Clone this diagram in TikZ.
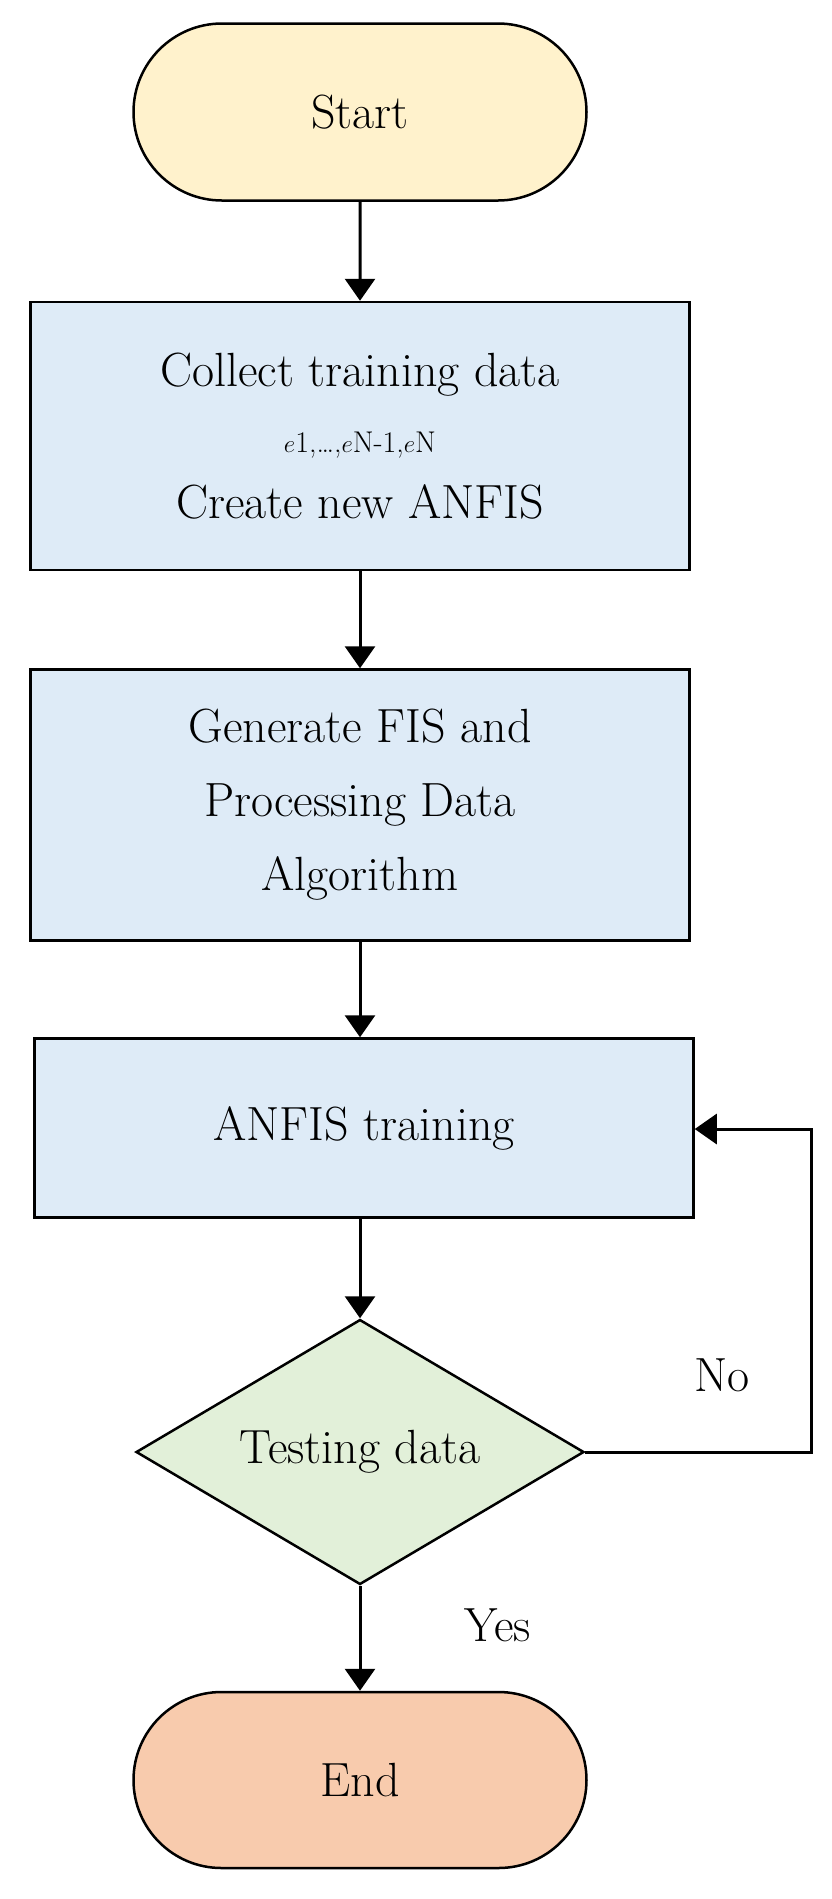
\documentclass[tikz,border=0pt]{standalone}
\usetikzlibrary{shapes.geometric,shapes.misc,arrows.meta}
\definecolor{startc}{HTML}{FFF2CC}
\definecolor{boxc}{HTML}{DEEBF7}
\definecolor{testc}{HTML}{E2F0D9}
\definecolor{endc}{HTML}{F8CBAD}
\tikzset{etape/.style={draw,line width=2.5pt,fill=#1,align=center,inner sep=0pt},
etape/.default={boxc},
fleche/.style={line width=3pt,-{Triangle[length=22pt,width=30pt]}}}
\begin{document}
\begin{tikzpicture}[x=1pt,y=-1pt,font=\fontsize{48}{74}\selectfont]
\useasboundingbox (0,0) rectangle (831,1899);
\node [etape=startc,rounded rectangle,minimum width=453pt,minimum height=177pt] (debut) at (360,112) {Start};
\node [etape,minimum width=659pt,minimum height=268pt] (collecte) at (360,436) {Collect training data\\[-8pt]{\fontsize{40}{48}\selectfont$e$\fontsize{30}{36}\selectfont 1,\ldots,\fontsize{40}{48}\selectfont$e$\fontsize{30}{36}\selectfont N-1,\fontsize{40}{48}\selectfont$e$\fontsize{30}{36}\selectfont N}\\[-8pt]Create new ANFIS};
\node [etape,minimum width=659pt,minimum height=271pt] (fis) at (360,805) {Generate FIS and\\Processing Data\\Algorithm};
\node [etape,minimum width=659pt,minimum height=179pt] (anfis) at (364,1128) {ANFIS training};
\node [etape=testc,diamond,aspect=1.7,minimum width=448pt,minimum height=265pt] (test) at (360,1452) {};
\node at (test) {Testing data};
\node [etape=endc,rounded rectangle,minimum width=453pt,minimum height=176pt] (fin) at (360,1780) {End};
\coordinate (coin1) at (811,1452);
\coordinate (coin2) at (811,1129);
\draw [fleche] (debut) -- (collecte);
\draw [fleche] (collecte) -- (fis);
\draw [fleche] (fis.south) -- (fis.south |- anfis.north);
\draw [fleche] (anfis.south -| test.north) -- (test);
\draw [fleche] (test) -- (fin);
\draw [fleche] (test.east) -- (coin1) -- (coin2) -- (anfis.east |- coin2);
\node at (722,1375) {No};
\node at (498,1625) {Yes};
\end{tikzpicture}
\end{document}
